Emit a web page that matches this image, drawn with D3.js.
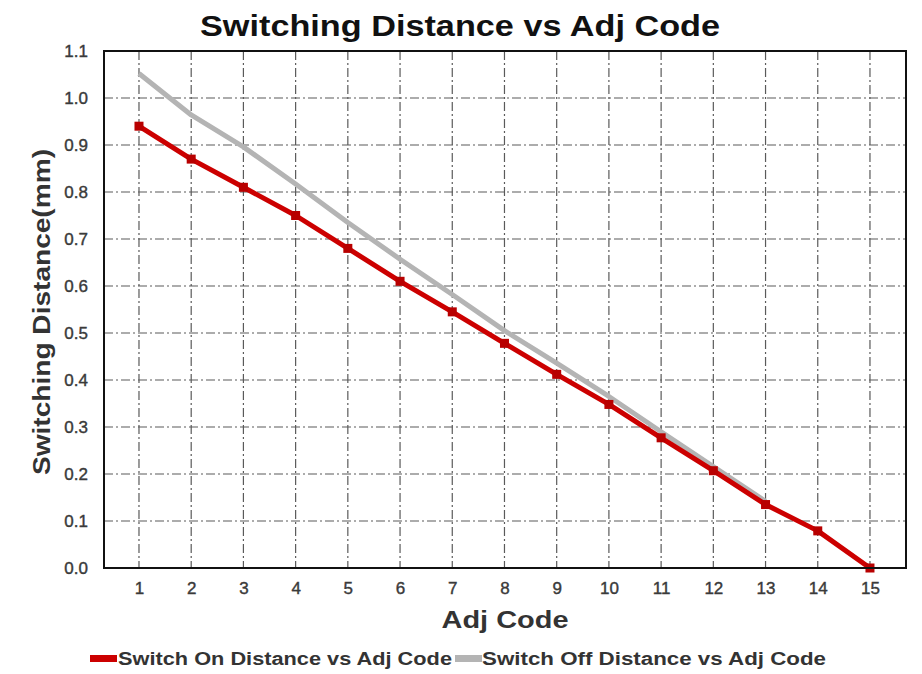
<!DOCTYPE html>
<html>
<head>
<meta charset="utf-8">
<script src="https://cdn.jsdelivr.net/npm/d3@7"></script>
<style>
  body { margin: 0; background: #fff; }
  text { font-family: "Liberation Sans", Arial, sans-serif; }
</style>
</head>
<body>
<div id="chart"></div>
<script>
// data
var adjCodes = [1, 2, 3, 4, 5, 6, 7, 8, 9, 10, 11, 12, 13, 14, 15]
var switchOn = [0.94, 0.87, 0.81, 0.75, 0.68, 0.61, 0.545, 0.478, 0.412, 0.348, 0.277, 0.207, 0.135, 0.079, 0.0]
var switchOff = [1.052, 0.964, 0.896, 0.817, 0.735, 0.657, 0.582, 0.505, 0.436, 0.365, 0.29, 0.216, 0.142]
var yTicks = [0.0, 0.1, 0.2, 0.3, 0.4, 0.5, 0.6, 0.7, 0.8, 0.9, 1.0, 1.1]
var seriesNames = ["Switch On Distance vs Adj Code", "Switch Off Distance vs Adj Code"]

var w = 922, h = 674
var plot = {left: 104, right: 906, top: 51, bottom: 568}

var redColour = "#cc0000"
var greyColour = "#b4b4b4"

var svg = d3.select("#chart")
	.append("svg")
	.attr("width", w)
	.attr("height", h)

// scales
var x = d3.scaleLinear()
	.domain([0.33, 15.69])
	.range([plot.left, plot.right])

var y = d3.scaleLinear()
	.domain([0, 1.1])
	.range([plot.bottom, plot.top])

// grid
var gridG = svg.append("g")

gridG.selectAll(".vGrid")
	.data(adjCodes)
	.enter()
	.append("line")
	.attr("x1", function(d) {return x(d)})
	.attr("x2", function(d) {return x(d)})
	.attr("y1", plot.top)
	.attr("y2", plot.bottom)
	.style("stroke", "#5a5a5a")
	.style("stroke-width", 1.2)
	.style("stroke-dasharray", "9,3,2,3")

gridG.selectAll(".hGrid")
	.data(yTicks.filter(function(d) {return d > 0 && d < 1.1}))
	.enter()
	.append("line")
	.attr("x1", plot.left)
	.attr("x2", plot.right)
	.attr("y1", function(d) {return y(d)})
	.attr("y2", function(d) {return y(d)})
	.style("stroke", "#5a5a5a")
	.style("stroke-width", 1.2)
	.style("stroke-dasharray", "9,3,2,3")

// axes (labels only, the frame is drawn below)
var xAxis = svg.append("g")
	.attr("transform", "translate(0," + plot.bottom + ")")
	.call(d3.axisBottom(x).tickValues(adjCodes).tickSize(0).tickPadding(14).tickFormat(d3.format("d")))

var yAxis = svg.append("g")
	.attr("transform", "translate(" + plot.left + ",0)")
	.call(d3.axisLeft(y).tickValues(yTicks).tickSize(0).tickPadding(16).tickFormat(d3.format(".1f")))

svg.selectAll(".domain").remove()
svg.selectAll(".tick text")
	.style("font-family", "Liberation Sans, Arial, sans-serif")
	.style("font-size", "17px")
	.style("font-weight", "normal")
	.style("fill", "#3a3a3a")
	.style("stroke", "#3a3a3a")
	.style("stroke-width", 0.4)

// lines
var line = d3.line()
	.x(function(d) {return x(d[0])})
	.y(function(d) {return y(d[1])})

var offData = switchOff.map(function(v, i) {return [adjCodes[i], v]})
var onData = switchOn.map(function(v, i) {return [adjCodes[i], v]})

svg.append("path")
	.attr("d", line(offData))
	.style("fill", "none")
	.style("stroke", greyColour)
	.style("stroke-width", 5)
	.style("stroke-linejoin", "round")

svg.append("path")
	.attr("d", line(onData))
	.style("fill", "none")
	.style("stroke", redColour)
	.style("stroke-width", 5)
	.style("stroke-linejoin", "round")

svg.selectAll(".marker")
	.data(onData)
	.enter()
	.append("rect")
	.attr("x", function(d) {return x(d[0]) - 4.5})
	.attr("y", function(d) {return y(d[1]) - 4.5})
	.attr("width", 9)
	.attr("height", 9)
	.style("fill", "#b80000")

// frame
svg.append("rect")
	.attr("x", plot.left)
	.attr("y", plot.top)
	.attr("width", plot.right - plot.left)
	.attr("height", plot.bottom - plot.top)
	.style("fill", "none")
	.style("stroke", "#111")
	.style("stroke-width", 2)

// titles
svg.append("text")
	.attr("x", 460)
	.attr("y", 36)
	.attr("text-anchor", "middle")
	.attr("textLength", 520)
	.attr("lengthAdjust", "spacingAndGlyphs")
	.style("font-size", "29px")
	.style("font-weight", "bold")
	.style("fill", "#111")
	.text("Switching Distance vs Adj Code")

svg.append("text")
	.attr("x", (plot.left + plot.right) / 2)
	.attr("y", 628)
	.attr("text-anchor", "middle")
	.attr("textLength", 127)
	.attr("lengthAdjust", "spacingAndGlyphs")
	.style("font-size", "23px")
	.style("font-weight", "bold")
	.style("fill", "#333")
	.text("Adj Code")

svg.append("text")
	.attr("transform", "translate(50," + 312 + ") rotate(-90)")
	.attr("text-anchor", "middle")
	.attr("textLength", 326)
	.attr("lengthAdjust", "spacingAndGlyphs")
	.style("font-size", "23px")
	.style("font-weight", "bold")
	.style("fill", "#333")
	.text("Switching Distance(mm)")

// legend
var legend = [
	{name: seriesNames[0], colour: redColour, x: 90, textX: 118, len: 334},
	{name: seriesNames[1], colour: greyColour, x: 455, textX: 482, len: 344}
]

var legendG = svg.selectAll(".legend")
	.data(legend)
	.enter()
	.append("g")

legendG.append("rect")
	.attr("x", function(d) {return d.x})
	.attr("y", 655)
	.attr("width", 27)
	.attr("height", 7)
	.style("fill", function(d) {return d.colour})

legendG.append("text")
	.attr("x", function(d) {return d.textX})
	.attr("y", 665)
	.attr("textLength", function(d) {return d.len})
	.attr("lengthAdjust", "spacingAndGlyphs")
	.style("font-size", "18px")
	.style("font-weight", "bold")
	.style("fill", "#333")
	.text(function(d) {return d.name})
</script>
</body>
</html>
